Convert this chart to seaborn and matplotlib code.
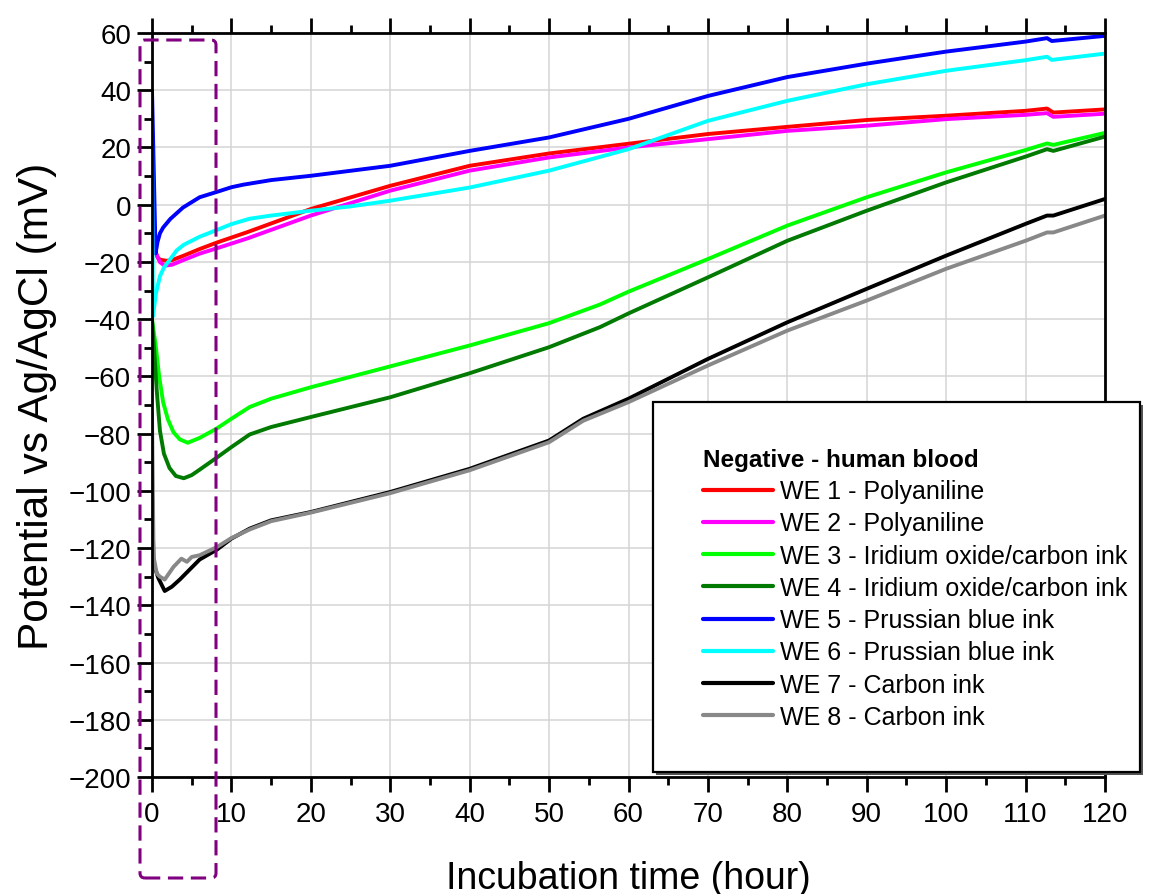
import numpy as np
import pandas as pd
import seaborn as sns
import matplotlib.pyplot as plt
from matplotlib.patches import Rectangle, FancyBboxPatch
from matplotlib.ticker import MultipleLocator

# values (hour, mV)
t_we1 = [0.4, 0.7, 1.0, 1.8, 2.5, 4, 6, 8.2, 12, 20, 30, 40, 50, 60, 70, 80, 90, 100, 110, 112.7, 113.5, 120]
v_we1 = [-16, -18.4, -19.2, -19.6, -19.4, -17.8, -15.5, -13.2, -9.6, -1.5, 6.6, 13.6, 17.9, 21.3, 24.7, 27.2, 29.6, 31.1, 32.8, 33.6, 32.2, 33.3]

t_we2 = [0.5, 1.0, 1.6, 2.5, 4, 6, 8.2, 12, 20, 30, 40, 50, 60, 70, 80, 90, 100, 110, 112.7, 113.5, 120]
v_we2 = [-17, -20.1, -21.3, -21, -19.3, -17.1, -15.2, -11.8, -3.8, 4.9, 11.9, 16.5, 20, 22.9, 25.8, 27.6, 29.9, 31.4, 32, 30.7, 31.8]

t_we3 = [0, 0.3, 0.5, 0.9, 1.4, 2, 2.7, 3.5, 4.5, 6, 8.1, 10, 12.3, 15, 20, 30, 40, 50, 56.4, 60, 70, 80, 90, 100, 110, 112.7, 113.5, 120]
v_we3 = [-40, -46, -50, -60, -69, -75, -79.5, -82, -83.2, -81.5, -78.3, -74.8, -70.7, -67.8, -63.8, -56.5, -49.2, -41.4, -34.9, -30.4, -19, -7.3, 2.6, 11.3, 19.1, 21.4, 20.9, 25.1]

t_we4 = [0, 0.3, 0.6, 1.0, 1.5, 2.2, 3, 4, 5, 6, 8.2, 10, 12.3, 15, 20, 30, 40, 50, 56.4, 60, 70, 80, 90, 100, 110, 112.7, 113.5, 120]
v_we4 = [-40, -52, -65, -79, -87, -92, -94.8, -95.6, -94.5, -92.6, -88.3, -84.7, -80.3, -77.7, -74.2, -67.3, -58.9, -49.8, -42.8, -38, -25.4, -12.6, -2.1, 7.8, 16.8, 19.4, 18.8, 23.8]

t_we5 = [0, 0.45, 0.7, 1.0, 1.4, 2.3, 3.9, 6, 8.2, 10, 11.5, 15, 20, 30, 40, 50, 60, 70, 80, 90, 100, 110, 112.7, 113.3, 120]
v_we5 = [40, -17, -13, -10, -8, -5, -1, 2.6, 4.5, 6.1, 7.0, 8.6, 10.1, 13.6, 18.8, 23.5, 30, 38, 44.6, 49.3, 53.5, 57, 58.2, 57.2, 59]

t_we6 = [0, 0.12, 0.5, 1.0, 1.5, 2.3, 3.1, 4, 6, 8.2, 10, 12.3, 15, 17.4, 20, 25, 30, 40, 50, 60, 70, 80, 90, 100, 110, 112.7, 113.3, 120]
v_we6 = [29, -39, -31, -25, -22, -19, -16, -14, -11.2, -8.8, -6.8, -4.9, -3.8, -3, -2.1, -0.6, 1.4, 6, 11.9, 19.4, 29.3, 36.3, 42.1, 46.8, 50.5, 51.7, 50.6, 52.8]

t_we7 = [0, 0.2, 0.8, 1.6, 2.5, 3.5, 6, 8.2, 10, 12.3, 15, 20, 30, 40, 50, 54.3, 60, 70, 80, 90, 100, 110, 112.7, 113.5, 120]
v_we7 = [-100, -125.5, -130.5, -135, -133.5, -131, -124, -120.5, -116.7, -113.2, -110.3, -107.4, -100.4, -92.3, -82.4, -74.8, -67.8, -53.9, -41.1, -29.4, -17.8, -6.7, -3.8, -3.8, 2]

t_we8 = [0, 0.2, 0.6, 1.0, 1.6, 2.7, 3.7, 4.4, 5, 6, 8.2, 10, 12.3, 15, 20, 30, 40, 50, 54.3, 60, 70, 80, 90, 100, 110, 112.7, 113.5, 120]
v_we8 = [-73, -123, -128.9, -130, -131, -126.6, -123.7, -124.8, -123.1, -122.5, -119.6, -116.5, -113.5, -110.6, -107.6, -100.8, -92.8, -83, -75.5, -69, -56.2, -44, -33.5, -22.4, -12.6, -9.7, -9.7, -3.8]

labels = ["WE 1 - Polyaniline", "WE 2 - Polyaniline",
          "WE 3 - Iridium oxide/carbon ink", "WE 4 - Iridium oxide/carbon ink",
          "WE 5 - Prussian blue ink", "WE 6 - Prussian blue ink",
          "WE 7 - Carbon ink", "WE 8 - Carbon ink"]
colors = ["#ff0000", "#ff00ff", "#00ff00", "#007a00",
          "#0000ff", "#00ffff", "#000000", "#888888"]

times = [t_we1, t_we2, t_we3, t_we4, t_we5, t_we6, t_we7, t_we8]
vals = [v_we1, v_we2, v_we3, v_we4, v_we5, v_we6, v_we7, v_we8]

frames = []
for lab, t, v in zip(labels, times, vals):
    frames.append(pd.DataFrame({"time": t, "potential": v, "electrode": lab}))
df = pd.concat(frames, ignore_index=True)

sns.set_style("white")
plt.rcParams["font.family"] = ["Liberation Sans", "DejaVu Sans"]
plt.rcParams["text.color"] = "black"
plt.rcParams["axes.labelcolor"] = "black"

fig = plt.figure(figsize=(11.68, 8.95), dpi=100)
ax = fig.add_axes([152 / 1168, 1 - 778 / 895, (1105 - 152) / 1168, (778 - 34) / 895])

sns.lineplot(data=df, x="time", y="potential", hue="electrode", hue_order=labels,
             palette=dict(zip(labels, colors)), estimator=None, sort=False,
             linewidth=2.8, ax=ax)
handles, _ = ax.get_legend_handles_labels()
ax.get_legend().remove()

ax.set_xlim(0, 120)
ax.set_ylim(-200, 60)
ax.xaxis.set_major_locator(MultipleLocator(10))
ax.xaxis.set_minor_locator(MultipleLocator(5))
ax.yaxis.set_major_locator(MultipleLocator(20))
ax.yaxis.set_minor_locator(MultipleLocator(10))
ax.grid(True, which="major", color="#d4d4d4", linewidth=1.1)
ax.set_axisbelow(True)

for s in ax.spines.values():
    s.set_linewidth(2)
    s.set_color("black")
ax.tick_params(which="both", direction="out", top=True, right=False, bottom=True, left=True,
               width=2, labelsize=20, colors="black")
ax.tick_params(which="major", length=11)
ax.tick_params(which="minor", length=6)
ax.tick_params(axis="x", pad=6)
ax.tick_params(axis="y", pad=4)

ax.set_xlabel("Incubation time (hour)", fontsize=27, labelpad=24)
ax.set_ylabel("Potential vs Ag/AgCl (mV)", fontsize=30.5, labelpad=8)

# legend box (sticks out past the plot area), with a thin shadow
shadow = Rectangle((656 / 1168, 1 - 776 / 895), (1140 - 653) / 1168, (773 - 403) / 895,
                   transform=fig.transFigure, facecolor="#555555", edgecolor="none", zorder=2.9)
box = Rectangle((653 / 1168, 1 - 773 / 895), (1140 - 653) / 1168, (773 - 403) / 895,
                transform=fig.transFigure, facecolor="white", edgecolor="black",
                linewidth=1.6, zorder=3)
fig.patches.append(shadow)
fig.patches.append(box)
leg = fig.legend(handles, labels, loc="upper left", bbox_to_anchor=(703 / 1168, 1 - 449 / 895),
                 bbox_transform=fig.transFigure, frameon=False, fontsize=18,
                 title="Negative - human blood",
                 title_fontproperties={"weight": "bold", "size": 17.5},
                 alignment="left", handlelength=2.8, handletextpad=0.3,
                 labelspacing=0.33, borderpad=0, borderaxespad=0)
leg.set_zorder(4)
for h in leg.legend_handles:
    h.set_linewidth(3)

# dashed highlight round the first hours
hl = FancyBboxPatch((1.40, 0.16), 0.76, 8.38, boxstyle="round,pad=0,rounding_size=0.05",
                    transform=fig.dpi_scale_trans, facecolor="none", edgecolor="#800080",
                    linewidth=2.2, linestyle=(0, (5, 2.5)), zorder=5, clip_on=False)
fig.patches.append(hl)

fig.savefig("out.png", dpi=100)
